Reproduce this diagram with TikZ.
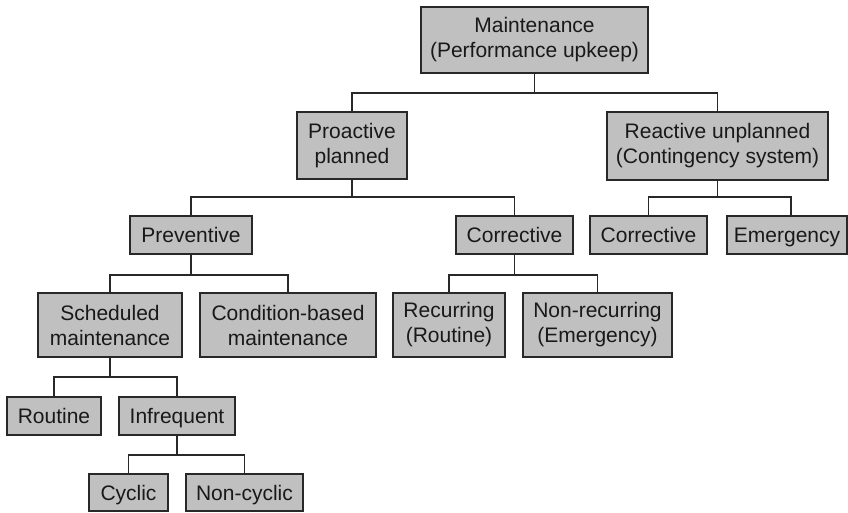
\documentclass[tikz,border=0pt]{standalone}
\usepackage{fontspec}
\setmainfont{Liberation Sans}
\definecolor{boxgray}{RGB}{192,192,192}
\definecolor{linegray}{RGB}{40,40,40}
\begin{document}
\begin{tikzpicture}[x=1pt,y=-1pt,
  box/.style={draw=linegray, fill=boxgray, line width=1.3pt, inner sep=0pt, align=center,
    text=black!90, font=\fontsize{21pt}{25pt}\selectfont},
  oneline/.style={text height=15.5pt, text depth=0pt},
  conn/.style={draw=linegray, line width=1.3pt}]
\useasboundingbox (0,0) rectangle (848,512);
\node[box, minimum width=227pt, minimum height=66pt] (maint) at (534.5,40) {Maintenance\\(Performance upkeep)};
\node[box, minimum width=110pt, minimum height=67pt] (proact) at (352,145.5) {Proactive\\planned};
\node[box, minimum width=221pt, minimum height=68pt] (react) at (717.5,146) {Reactive unplanned\\(Contingency system)};
\node[box, oneline, minimum width=122pt, minimum height=38pt] (prev) at (191,235) {Preventive};
\node[box, oneline, minimum width=117pt, minimum height=38pt] (corrL) at (514.5,235) {Corrective};
\node[box, oneline, minimum width=117pt, minimum height=38pt] (corrR) at (648.5,235) {Corrective};
\node[box, oneline, minimum width=120pt, minimum height=38pt] (emerg) at (787,235) {Emergency};
\node[box, minimum width=144pt, minimum height=64pt] (sched) at (110,325) {Scheduled\\maintenance};
\node[box, minimum width=176pt, minimum height=64pt] (cond) at (288,325) {Condition-based\\maintenance};
\node[box, minimum width=112pt, minimum height=64pt] (recur) at (449,325) {Recurring\\(Routine)};
\node[box, minimum width=149pt, minimum height=64pt] (nonrec) at (597.5,325) {Non-recurring\\(Emergency)};
\node[box, oneline, minimum width=94pt, minimum height=38pt] (routine) at (54,416) {Routine};
\node[box, oneline, minimum width=116pt, minimum height=38pt] (infreq) at (177,416) {Infrequent};
\node[box, oneline, minimum width=79pt, minimum height=37pt] (cyclic) at (128.5,492.5) {Cyclic};
\node[box, oneline, minimum width=117pt, minimum height=37pt] (noncyc) at (244.5,492.5) {Non-cyclic};
% connectors
\draw[conn] (maint.south) -- (maint.south |- 0,93) -| (proact.north);
\draw[conn] (maint.south) -- (maint.south |- 0,93) -| (react.north);
\draw[conn] (proact.south) -- (proact.south |- 0,197) -| (prev.north);
\draw[conn] (proact.south) -- (proact.south |- 0,197) -| (corrL.north);
\draw[conn] (react.south) -- (react.south |- 0,197) -| (corrR.north);
\draw[conn] (react.south) -- (react.south |- 0,197) -| ([xshift=4pt]emerg.north);
\draw[conn] (prev.south) -- (prev.south |- 0,275) -| (sched.north);
\draw[conn] (prev.south) -- (prev.south |- 0,275) -| (cond.north);
\draw[conn] (corrL.south) -- (corrL.south |- 0,275) -| (recur.north);
\draw[conn] (corrL.south) -- (corrL.south |- 0,275) -| (nonrec.north);
\draw[conn] (sched.south) -- (sched.south |- 0,377) -| (routine.north);
\draw[conn] (sched.south) -- (sched.south |- 0,377) -| (infreq.north);
\draw[conn] (infreq.south) -- (infreq.south |- 0,455) -| (cyclic.north);
\draw[conn] (infreq.south) -- (infreq.south |- 0,455) -| (noncyc.north);
\end{tikzpicture}
\end{document}
